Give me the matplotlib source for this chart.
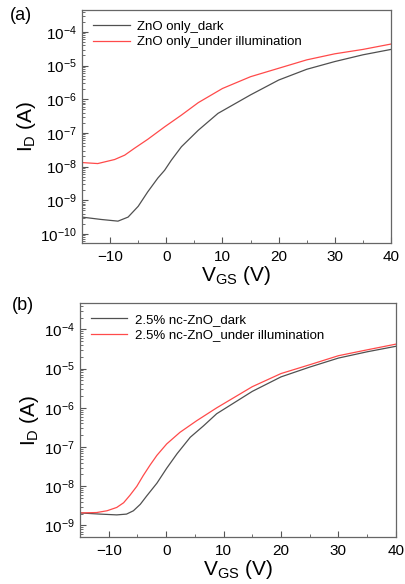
import matplotlib
matplotlib.use("Agg")
import matplotlib.pyplot as plt
from matplotlib.ticker import MultipleLocator, LogLocator
import numpy as np

plt.rcParams['font.family'] = ['Liberation Sans', 'DejaVu Sans']
plt.rcParams['mathtext.fontset'] = 'custom'
plt.rcParams['mathtext.rm'] = 'Liberation Sans'
plt.rcParams['mathtext.it'] = 'Liberation Sans:italic'

# panel (a): ZnO only  (log10 of I_D)
vgs_a_dark = [-15, -11.6, -8.6, -6.8, -5.0, -3.3, -1.5, -0.3, 0.9, 2.7, 5.7, 9.2,
              15, 20, 25, 30, 35, 40]
logid_a_dark = [-9.50, -9.57, -9.62, -9.50, -9.18, -8.75, -8.34, -8.11, -7.81, -7.41,
                -6.92, -6.42, -5.87, -5.43, -5.11, -4.88, -4.68, -4.52]
vgs_a_light = [-15, -12.2, -9.2, -7.4, -5.7, -3.3, -0.3, 2.7, 5.7, 10, 15, 20, 25,
               30, 35, 40]
logid_a_light = [-7.88, -7.91, -7.79, -7.66, -7.46, -7.19, -6.82, -6.47, -6.10,
                 -5.68, -5.33, -5.08, -4.83, -4.65, -4.52, -4.36]

# panel (b): 2.5% nc-ZnO
vgs_b_dark = [-15, -11.5, -8.6, -6.9, -5.7, -4.5, -3.4, -1.6, 0.1, 1.9, 4.2, 6.5,
              8.8, 15, 20, 25, 30, 35, 40]
logid_b_dark = [-8.68, -8.71, -8.73, -8.71, -8.625, -8.46, -8.25, -7.92, -7.54,
                -7.17, -6.75, -6.46, -6.15, -5.58, -5.21, -4.96, -4.73, -4.57, -4.43]
vgs_b_light = [-15, -12.1, -10.3, -8.6, -7.4, -6.3, -5.1, -4.0, -2.8, -1.6, 0.1,
               2.4, 5.3, 8.8, 15, 20, 25, 30, 35, 40]
logid_b_light = [-8.68, -8.67, -8.625, -8.54, -8.42, -8.23, -8.00, -7.73, -7.46,
                 -7.21, -6.92, -6.625, -6.33, -6.00, -5.46, -5.125, -4.90, -4.67,
                 -4.52, -4.375]

labels_a = ["ZnO only_dark", "ZnO only_under illumination"]
labels_b = ["2.5% nc-ZnO_dark", "2.5% nc-ZnO_under illumination"]

dark_col = "#505050"
light_col = "#ff4a4a"

fig = plt.figure(figsize=(4.06, 5.84), dpi=100)
ax_a = fig.add_axes([0.202, 0.584, 0.761, 0.399])
ax_b = fig.add_axes([0.197, 0.080, 0.778, 0.401])


def style(ax, ylim):
    ax.set_yscale('log')
    ax.set_xlim(-15, 40)
    ax.set_ylim(*ylim)
    ax.xaxis.set_major_locator(MultipleLocator(10))
    ax.xaxis.set_minor_locator(MultipleLocator(5))
    ax.yaxis.set_major_locator(LogLocator(base=10, numticks=20))
    ax.yaxis.set_minor_locator(LogLocator(base=10, subs=np.arange(2, 10), numticks=20))
    ax.tick_params(which='both', direction='in', top=False, right=False,
                   labelsize=11, color='#555555')
    ax.tick_params(which='major', length=4.5, width=0.8)
    ax.tick_params(which='minor', length=2.5, width=0.6)
    ax.tick_params(axis='x', pad=5)
    for sp in ax.spines.values():
        sp.set_color('#666666')
        sp.set_linewidth(0.9)
    ax.set_xlabel(r'V$_\mathregular{GS}$ (V)', fontsize=15, labelpad=0)
    ax.set_ylabel(r'I$_\mathregular{D}$ (A)', fontsize=15, labelpad=2)


ax_a.plot(vgs_a_dark, 10 ** np.array(logid_a_dark), color=dark_col, lw=0.9, label=labels_a[0])
ax_a.plot(vgs_a_light, 10 ** np.array(logid_a_light), color=light_col, lw=0.9, label=labels_a[1])
style(ax_a, (5.4e-11, 4.5e-4))

ax_b.plot(vgs_b_dark, 10 ** np.array(logid_b_dark), color=dark_col, lw=0.9, label=labels_b[0])
ax_b.plot(vgs_b_light, 10 ** np.array(logid_b_light), color=light_col, lw=0.9, label=labels_b[1])
style(ax_b, (5.0e-10, 4.7e-4))

fig.text(10 / 406, 1 - 16 / 584, '(a)', fontsize=13, ha='left', va='center')
fig.text(12 / 406, 1 - 306 / 584, '(b)', fontsize=13, ha='left', va='center')

for ax in (ax_a, ax_b):
    ax.legend(loc='upper left', frameon=False, fontsize=9.5, handlelength=2.8,
              handletextpad=0.6, labelspacing=0.25, borderaxespad=0.4)

fig.savefig("out.png", dpi=100)
